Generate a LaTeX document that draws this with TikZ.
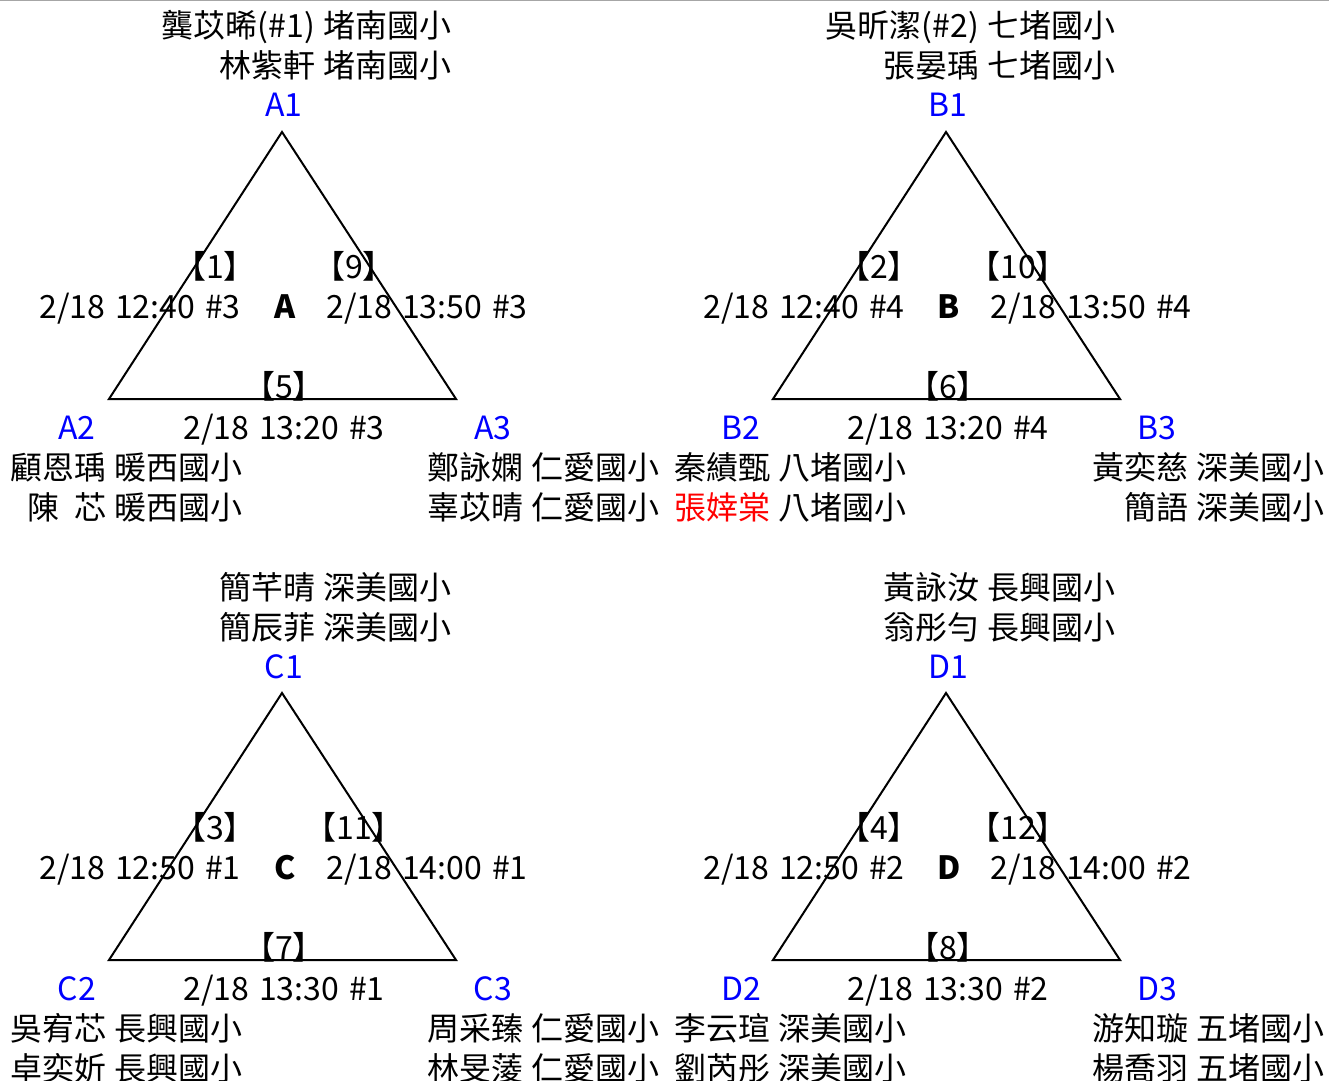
\documentclass[tikz,border=0pt]{standalone}
\usepackage{fontspec}
\setmainfont[WordSpace=1.4]{Noto Sans CJK TC}
\newcommand{\gapp}{\hspace{0.27em}}
% one group: letter, x shift, y shift, three game numbers, three times
\newcommand{\match}[9]{
    \coordinate (#1t) at ({282+#2},{132+#3}); \coordinate (#1l) at ({109+#2},{399+#3});
    \coordinate (#1r) at ({456+#2},{399+#3});
    \draw[edge] (#1t) -- (#1l) -- (#1r) -- cycle;
    \node[corner] (#11) at ({284+#2},{117+#3}) {#11};
    \node[corner] (#12) at ({77+#2},{439+#3}) {#12};
    \node[corner] (#13) at ({493+#2},{439+#3}) {#13};
    \node[txt] (#1g1) at ({215+#2},{278+#3}) {【#4】}; \node[txt] (#1g2) at ({354+#2},{278+#3}) {【#5】};
    \node[txt] (#1g3) at ({284+#2},{398+#3}) {【#6】};
    \node[txt] (#1d1) at ({140+#2},{318+#3}) {#7}; \node[txt] (#1d2) at ({427+#2},{318+#3}) {#8};
    \node[txt] (#1d3) at ({284+#2},{439+#3}) {#9};
    \node[txt,font=\fontsize{24}{28}\selectfont\bfseries] (#1) at ({285+#2},{318+#3}) {#1};
}
\newcommand{\names}[6]{\node[txt,anchor=base #2] (#1a) at (#3,#4) {#5}; \node[txt,anchor=base #2] (#1b) at (#3,{#4+40}) {#6};}
\tikzset{
    edge/.style={line width=1.5pt, line join=miter},
    txt/.style={inner sep=0pt, anchor=base, font=\fontsize{24}{28}\selectfont},
    corner/.style={txt, blue}
}

\begin{document}
\begin{tikzpicture}[x=0.75pt,y=-0.75pt]
    \useasboundingbox (0,0) rectangle (1329,1081);
    \coordinate (top1) at (0,0.6); \coordinate (top2) at (1329,0.6);
    \draw[gray!70, line width=0.9pt] (top1) -- (top2);
    \match{A}{0}{0}{1}{9}{5}{2/18 12:40 \#3}{2/18 13:50 \#3}{2/18 13:20 \#3}
    \match{B}{664}{0}{2}{10}{6}{2/18 12:40 \#4}{2/18 13:50 \#4}{2/18 13:20 \#4}
    \match{C}{0}{561}{3}{11}{7}{2/18 12:50 \#1}{2/18 14:00 \#1}{2/18 13:30 \#1}
    \match{D}{664}{561}{4}{12}{8}{2/18 12:50 \#2}{2/18 14:00 \#2}{2/18 13:30 \#2}

    \names{An1}{east}{452}{38}{龔苡晞(\#1)\gapp 堵南國小}{林紫軒\gapp 堵南國小}
    \names{An2}{east}{243}{479}{顧恩瑀\gapp 暖西國小}{陳\hspace{0.45em}芯\gapp 暖西國小}
    \names{An3}{west}{427}{479}{鄭詠嫻\gapp 仁愛國小}{辜苡晴\gapp 仁愛國小}
    \names{Bn1}{east}{1116}{38}{吳昕潔(\#2)\gapp 七堵國小}{張晏瑀\gapp 七堵國小}
    \names{Bn2}{east}{907}{479}{秦績甄\gapp 八堵國小}{\textcolor{red}{張婞棠}\gapp 八堵國小}
    \names{Bn3}{east}{1325}{479}{黃奕慈\gapp 深美國小}{簡語\gapp 深美國小}
    \names{Cn1}{east}{452}{599}{簡芊晴\gapp 深美國小}{簡辰菲\gapp 深美國小}
    \names{Cn2}{east}{243}{1040}{吳宥芯\gapp 長興國小}{卓奕妡\gapp 長興國小}
    \names{Cn3}{west}{427}{1040}{周采臻\gapp 仁愛國小}{林旻蔆\gapp 仁愛國小}
    \names{Dn1}{east}{1116}{599}{黃詠汝\gapp 長興國小}{翁彤勻\gapp 長興國小}
    \names{Dn2}{east}{907}{1040}{李云瑄\gapp 深美國小}{劉芮彤\gapp 深美國小}
    \names{Dn3}{east}{1325}{1040}{游知璇\gapp 五堵國小}{楊喬羽\gapp 五堵國小}
\end{tikzpicture}
\end{document}
